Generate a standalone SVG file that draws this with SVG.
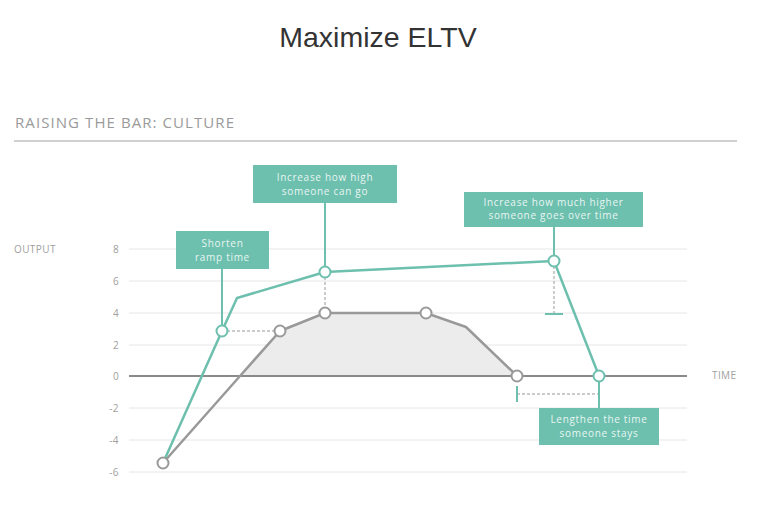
<svg xmlns="http://www.w3.org/2000/svg" width="784" height="512" viewBox="0 0 784 512">
<style>
.title{font-family:"Liberation Sans",Arial,sans-serif;font-size:28.5px;fill:#333}
.sub{font-family:"Open Sans","Noto Sans",sans-serif;font-size:15px;fill:#9a9a9a}
.ax{font-family:"Open Sans","Noto Sans",sans-serif;font-size:10px;fill:#a0a0a0;letter-spacing:0.4px}
.grid{stroke:#e6e6e6;stroke-width:1}
.box{fill:#6dbfae}
.bt{font-family:"Open Sans","Noto Sans",sans-serif;font-size:10px;fill:#e8f6f2;text-anchor:middle;letter-spacing:0.7px}
.teal{stroke:#6dbfae;stroke-width:2.5;fill:none;stroke-linejoin:round}
.tc{stroke:#6dbfae;stroke-width:2;fill:none}
.gray{stroke:#999;stroke-width:2.5;fill:none;stroke-linejoin:round}
.dash{stroke:#999;stroke-width:1;stroke-dasharray:3,2;fill:none}
.cg{fill:#fff;stroke:#999;stroke-width:2}
.ct{fill:#fff;stroke:#6dbfae;stroke-width:2}
</style>
<rect width="784" height="512" fill="#fff"/>
<text class="title" x="378" y="47" text-anchor="middle">Maximize ELTV</text>
<text class="sub" x="15" y="128" textLength="219" lengthAdjust="spacing">RAISING THE BAR: CULTURE</text>
<line x1="14" y1="141" x2="737" y2="141" stroke="#d0d0d0" stroke-width="2"/>

<g id="axes">
<line class="grid" x1="129" y1="249" x2="687" y2="249"/>
<line class="grid" x1="129" y1="281" x2="687" y2="281"/>
<line class="grid" x1="129" y1="313" x2="687" y2="313"/>
<line class="grid" x1="129" y1="345" x2="687" y2="345"/>
<line class="grid" x1="129" y1="408" x2="687" y2="408"/>
<line class="grid" x1="129" y1="440" x2="687" y2="440"/>
<line class="grid" x1="129" y1="472" x2="687" y2="472"/>
<text class="ax" x="14" y="253">OUTPUT</text>
<text class="ax" x="712" y="379">TIME</text>
<g text-anchor="end">
<text class="ax" x="119" y="253">8</text>
<text class="ax" x="119" y="285">6</text>
<text class="ax" x="119" y="317">4</text>
<text class="ax" x="119" y="349">2</text>
<text class="ax" x="119" y="380">0</text>
<text class="ax" x="119" y="412">-2</text>
<text class="ax" x="119" y="444">-4</text>
<text class="ax" x="119" y="476">-6</text>
</g>
</g>

<g id="connectors">
<polygon points="240,376 280,331 325,313 426,313 466,327 517,376" fill="#ececec"/>
<line x1="129" y1="376" x2="687" y2="376" stroke="#8a8a8a" stroke-width="2"/>
<polyline class="gray" points="163,463 240,376 280,331 325,313 426,313 466,327 517,376"/>
<line class="dash" x1="222" y1="331" x2="280" y2="331"/>
<line class="dash" x1="325" y1="272" x2="325" y2="313"/>
<line class="dash" x1="554" y1="261" x2="554" y2="314"/>
<line class="tc" x1="545" y1="314" x2="563" y2="314"/>
<line class="dash" x1="517" y1="394" x2="599" y2="394"/>
<line class="tc" x1="517" y1="386" x2="517" y2="402"/>
<polyline class="teal" points="163,463 222,331 237,298 325,272 554,261 599,376"/>
<line class="tc" x1="222" y1="269" x2="222" y2="331"/>
<line class="tc" x1="325" y1="203" x2="325" y2="272"/>
<line class="tc" x1="554" y1="227" x2="554" y2="261"/>
<line class="tc" x1="599" y1="376" x2="599" y2="408"/>
</g>

<g id="points">
<circle class="cg" cx="163" cy="463" r="5.5"/>
<circle class="cg" cx="280" cy="331" r="5.5"/>
<circle class="cg" cx="325" cy="313" r="5.5"/>
<circle class="cg" cx="426" cy="313" r="5.5"/>
<circle class="cg" cx="517" cy="376" r="5.5"/>
<circle class="ct" cx="222" cy="331" r="5.5"/>
<circle class="ct" cx="325" cy="272" r="5.5"/>
<circle class="ct" cx="554" cy="261" r="5.5"/>
<circle class="ct" cx="599" cy="376" r="5.5"/>
</g>

<g id="node-shorten">
<rect class="box" x="176" y="231" width="93" height="38"/>
<text class="bt" x="222.5" y="247">Shorten</text>
<text class="bt" x="222.5" y="261">ramp time</text>
</g>
<g id="node-high">
<rect class="box" x="253" y="165" width="144" height="38"/>
<text class="bt" x="325" y="181">Increase how high</text>
<text class="bt" x="325" y="195">someone can go</text>
</g>
<g id="node-higher">
<rect class="box" x="464" y="192" width="179" height="35"/>
<text class="bt" x="553.5" y="206">Increase how much higher</text>
<text class="bt" x="553.5" y="219">someone goes over time</text>
</g>
<g id="node-lengthen">
<rect class="box" x="539" y="408" width="120" height="37"/>
<text class="bt" x="599" y="423">Lengthen the time</text>
<text class="bt" x="599" y="437">someone stays</text>
</g>
</svg>
